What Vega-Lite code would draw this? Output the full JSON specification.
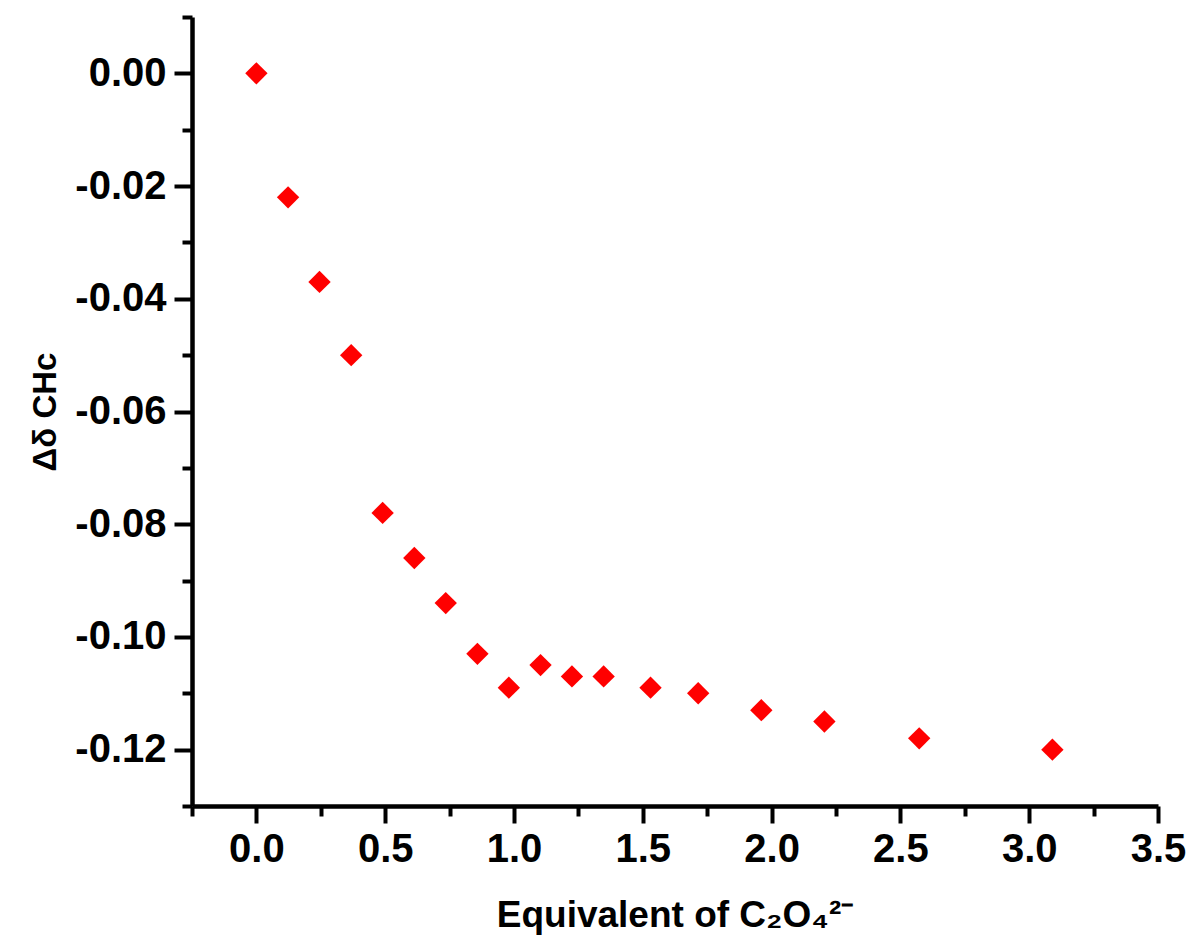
{
  "$schema": "https://vega.github.io/schema/vega-lite/v6.json",
  "autosize": "none",
  "width": 966,
  "height": 789,
  "padding": {"left": 192, "top": 17, "right": 38, "bottom": 144},
  "background": "white",
  "config": {"view": {"stroke": null}},
  "data": {"values": [
    {"eq": 0.0, "dd": 0.0},
    {"eq": 0.123, "dd": -0.022},
    {"eq": 0.245, "dd": -0.037},
    {"eq": 0.368, "dd": -0.050},
    {"eq": 0.49, "dd": -0.078},
    {"eq": 0.613, "dd": -0.086},
    {"eq": 0.735, "dd": -0.094},
    {"eq": 0.858, "dd": -0.103},
    {"eq": 0.98, "dd": -0.109},
    {"eq": 1.103, "dd": -0.105},
    {"eq": 1.225, "dd": -0.107},
    {"eq": 1.348, "dd": -0.107},
    {"eq": 1.53, "dd": -0.109},
    {"eq": 1.715, "dd": -0.110},
    {"eq": 1.96, "dd": -0.113},
    {"eq": 2.205, "dd": -0.115},
    {"eq": 2.573, "dd": -0.118},
    {"eq": 3.09, "dd": -0.120}
  ]},
  "mark": {"type": "point", "shape": "diamond", "filled": true, "color": "#ff0000", "size": 500, "opacity": 1},
  "encoding": {
    "x": {
      "field": "eq", "type": "quantitative",
      "scale": {"domain": [-0.25, 3.5], "nice": false, "zero": false},
      "axis": {
        "title": "Equivalent of C₂O₄²⁻",
        "values": [-0.25, 0, 0.25, 0.5, 0.75, 1, 1.25, 1.5, 1.75, 2, 2.25, 2.5, 2.75, 3, 3.25, 3.5],
        "labelExpr": "round(datum.value*4) % 2 == 0 ? format(datum.value, '.1f') : ''",
        "grid": false,
        "domainColor": "black", "domainWidth": 4.5,
        "tickColor": "black", "tickWidth": 4,
        "tickSize": {"condition": {"test": "round(datum.value*4) % 2 == 0", "value": 17}, "value": 10},
        "labelFont": "Liberation Sans", "labelFontSize": 40, "labelFontWeight": "bold", "labelColor": "black",
        "labelPadding": 6, "labelFlush": false, "labelOverlap": false,
        "titleFont": "Liberation Sans", "titleFontSize": 37, "titleFontWeight": "bold", "titleColor": "black",
        "titlePadding": 28
      }
    },
    "y": {
      "field": "dd", "type": "quantitative",
      "scale": {"domain": [-0.13, 0.01], "nice": false, "zero": false},
      "axis": {
        "title": "Δδ CHc",
        "values": [-0.13, -0.12, -0.11, -0.1, -0.09, -0.08, -0.07, -0.06, -0.05, -0.04, -0.03, -0.02, -0.01, 0, 0.01],
        "labelExpr": "abs(round(datum.value*100)) % 2 == 0 ? replace(format(datum.value, '.2f'), '\u2212', '-') : ''",
        "grid": false,
        "domainColor": "black", "domainWidth": 4.5,
        "tickColor": "black", "tickWidth": 4,
        "tickSize": {"condition": {"test": "abs(round(datum.value*100)) % 2 == 0", "value": 18}, "value": 10},
        "labelFont": "Liberation Sans", "labelFontSize": 40, "labelFontWeight": "bold", "labelColor": "black",
        "labelPadding": 8, "labelFlush": false, "labelOverlap": false,
        "titleFont": "Liberation Sans", "titleFontSize": 33, "titleFontWeight": "bold", "titleColor": "black",
        "titlePadding": 12
      }
    }
  }
}
